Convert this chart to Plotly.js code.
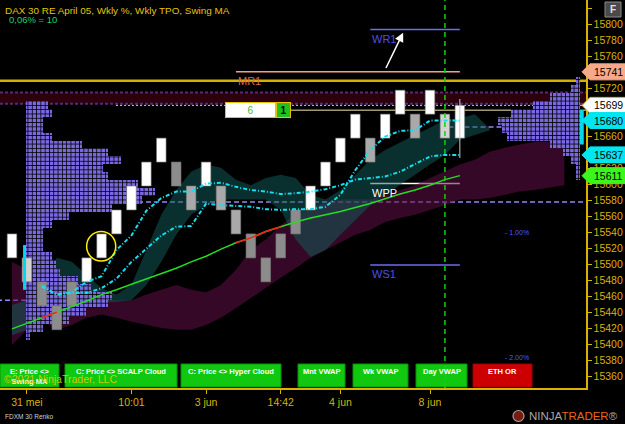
<!DOCTYPE html>
<html><head><meta charset="utf-8">
<script src="https://cdn.plot.ly/plotly-3.0.1.min.js"></script>
<style>html,body{margin:0;padding:0;background:#000;}#chart{width:625px;height:424px;}</style>
</head><body><div id="chart"></div>
<script>
// ---------------- DATA ----------------
const brickLow  = [15508,15478,15448,15418,15448,15478,15508,15538,15568,15598,15628,15598,15568,15598,15568,15538,15508,15478,15508,15538,15568,15598,15628,15658,15628,15658,15688,15658,15688,15658,15658];
const brickHigh = [15538,15508,15478,15448,15478,15508,15538,15568,15598,15628,15658,15628,15598,15628,15598,15568,15538,15508,15538,15568,15598,15628,15658,15688,15658,15688,15718,15688,15718,15688,15699];
const brickTone = ['w','l','g','g','g','w','w','w','w','w','w','g','m','w','m','m','g','g','g','g','w','w','w','w','m','w','w','m','w','l','w'];
const lastWick = [15633, 15707];

const maStart = 2;
const maA = [15473,15462,15465,15478,15485,15518,15536,15567,15583,15591,15591,15601,15602,15597,15593,15591,15588,15589,15591,15594,15599,15606,15608,15610,15616,15625,15635,15637,15637];
const maB = [15472,15462,15464,15464,15470,15482,15503,15519,15536,15547,15548,15576,15574,15573,15572,15569,15568,15569,15569,15572,15587,15618,15643,15660,15667,15668,15680,15680,15680];

const swingMA = [15419,15426,15433,15440,15448,15454,15462,15468,15475,15482,15489,15495,15503,15510,15519,15527,15533,15541,15547,15553,15558,15562,15566,15571,15576,15582,15588,15593,15599,15606,15611];
const swingRedIdx = [2,3,15,16,17,18];

const tealUp = [15449,15455,15468,15508,15503,15487,15470,15462,15474,15518,15562,15593,15616,15625,15621,15606,15599,15608,15612,15608,15587,15581,15593,15612,15631,15643,15653,15662,15671,15681,15683,15688,15670];
const tealLo = [15411,15418,15449,15465,15462,15455,15452,15453,15455,15474,15503,15537,15562,15574,15581,15581,15581,15581,15568,15531,15509,15518,15537,15556,15574,15587,15599,15612,15625,15637,15656,15662,15668];
const maroonUp = [15503,15493,15468,15455,15455,15455,15455,15455,15455,15462,15468,15474,15468,15465,15474,15493,15518,15531,15549,15562,15571,15577,15581,15581,15581,15587,15593,15599,15608,15616,15625,15631,15641,15646,15650,15653,15653,15653];
const maroonLo = [15399,15418,15430,15418,15424,15433,15437,15433,15428,15424,15420,15418,15418,15424,15433,15445,15458,15470,15483,15495,15508,15518,15528,15537,15543,15553,15558,15562,15568,15574,15581,15581,15583,15587,15591,15593,15596,15599];

const tpoLeftPrice = [15700,15690,15680,15670,15660,15650,15640,15630,15620,15610,15600,15590,15580,15570,15560,15550,15540,15530,15520,15510,15500,15490,15480,15470,15460,15450,15440,15430,15420,15410];
const tpoLeftCount = [5,6,4,4,6,13,19,22,18,19,26,30,27,20,10,6,4,4,4,6,7,8,12,15,20,19,14,10,4,1];
const tpoRightPrice = [15730,15720,15710,15700,15690,15680,15670,15660,15650,15640,15630,15620,15610];
const tpoRightCount = [1,2,7,11,16,19,18,17,7,4,2,1,1];
const vaLeft = [15468,15524];
const vaRight = [15650,15693];

const pivotName  = ['WR1','MR1','WPP','WS1'];
const pivotPrice = [15794,15741,15601,15499];
const pivotFrom  = [24,15,24,24];
const pivotTo = 30;
const monthLevel = 15730;
const bandLevels = [15701,15715];
const lastPrice = 15699;
const orderLevel = 15693;
const vaLine1 = 15578;
const vaLine2 = 15455;
const vaLine3 = 15672;
const pctLabel = ['- 1.00%','- 2.00%'];
const pctPrice = [15540,15383];
const priceTag = [15741,15699,15680,15637,15611];
const sessionBar = 29;
const circledBar = 6;
const arrowFrom = [25, 15744];
const arrowTo = [26.2, 15790];

const xTickIdx = [1,8,13,18,22,28];
const xTickText = ['31 mei','10:01','3 jun','14:42','4 jun','8 jun'];
const buttonText = ['E: Price &lt;&gt;<br>Swing MA','C: Price &lt;&gt; SCALP Cloud','C: Price &lt;&gt; Hyper Cloud','Mnt VWAP','Wk VWAP','Day VWAP','ETH OR'];

// ---------------- STYLE ----------------
const GOLD = '#d9b300';
const FONT = 'Arial, "Liberation Sans", sans-serif';
const W = 586, H = 388;
const toneColor = {w:'#ffffff', l:'#d2d2d2', m:'#a9a9a9', g:'#8c8c8c'};
const cellW = 0.288;
const tpoLeftStart = 0.94, tpoRightEnd = 38.04;
const tagColor = ['#f7a98a','#ffffff','#00e5f0','#00e5f0','#3cf51c'];
const buttonSpan = [[0,59],[65,177],[181,281],[298,345],[353,408],[416,467],[473,532]];
const buttonColor = ['#10c810','#10c810','#10c810','#10c810','#10c810','#10c810','#cc0000'];
const XR = [-0.804, 38.45], YR = [15345, 15831];

const idx = brickLow.map((_, i) => i);
const px = v => v / W, py = v => (H - v) / H;
const cIdx = n => Array.from({length:n}, (_, i) => i);

const traces = [];
traces.push({x:cIdx(maroonLo.length), y:maroonLo, mode:'lines', line:{width:0, color:'rgba(0,0,0,0)'}, hoverinfo:'skip'});
traces.push({x:cIdx(maroonUp.length), y:maroonUp, mode:'lines', line:{width:0, color:'rgba(0,0,0,0)'}, fill:'tonexty', fillcolor:'rgba(95,15,70,0.55)', hoverinfo:'skip'});
traces.push({x:cIdx(tealLo.length), y:tealLo, mode:'lines', line:{width:0, color:'rgba(0,0,0,0)'}, hoverinfo:'skip'});
traces.push({x:cIdx(tealUp.length), y:tealUp, mode:'lines', line:{width:0, color:'rgba(0,0,0,0)'}, fill:'tonexty', fillcolor:'rgba(18,95,92,0.5)', hoverinfo:'skip'});
const O = {xaxis:'x2', yaxis:'y2', hoverinfo:'skip'};
const tpoMarker = {color:'#7a68e0', line:{width:0}, pattern:{shape:'+', size:4.3, solidity:0.33, fgcolor:'#000', bgcolor:'#7a68e0', fillmode:'replace'}};
traces.push({...O, type:'bar', orientation:'h', y:tpoLeftPrice, x:tpoLeftCount.map(c => c*cellW), base:tpoLeftStart, width:10, marker:tpoMarker});
traces.push({...O, type:'bar', orientation:'h', y:tpoRightPrice, x:tpoRightCount.map(c => -c*cellW), base:tpoRightEnd, width:10, marker:tpoMarker});
traces.push({...O, type:'bar', x:idx, base:brickLow, y:brickHigh.map((h, i) => h - brickLow[i]), width:0.64,
  marker:{color:brickTone.map(t => toneColor[t]), line:{width:0.6, color:'#777'}}});
traces.push({...O, type:'scatter', mode:'lines', x:[idx[idx.length-1], idx[idx.length-1]], y:lastWick, line:{color:'#c8c8c8', width:1}});
const maX = maA.map((_, i) => i + maStart);
traces.push({...O, x:maX, y:maA, mode:'lines', line:{color:'#12e0f0', width:2, dash:'4px,2px,1px,2px'}});
traces.push({...O, x:maX, y:maB, mode:'lines', line:{color:'#12e0f0', width:2, dash:'4px,2px,1px,2px'}});
traces.push({...O, x:idx, y:swingMA, mode:'lines', line:{color:'#22dd22', width:1.5}});
traces.push({...O, x:idx, y:swingMA.map((v, i) => swingRedIdx.includes(i) ? v : null), mode:'lines', connectgaps:false, line:{color:'#ff1a1a', width:1.5}});

const shapes = [];
const ann = [];
shapes.push({type:'rect', xref:'paper', x0:0, x1:1, yref:'y', y0:bandLevels[0], y1:bandLevels[1], fillcolor:'#2c000c', line:{width:0}, layer:'below'});
bandLevels.forEach(v => shapes.push({type:'line', xref:'paper', x0:0, x1:1, yref:'y', y0:v, y1:v, line:{color:'#5a2878', width:2, dash:'3px,2px'}, layer:'below'}));
shapes.push({type:'line', xref:'paper', x0:0, x1:1, yref:'y', y0:monthLevel, y1:monthLevel, line:{color:'#d4b000', width:2.5}, layer:'below'});
shapes.push({type:'line', xref:'x', x0:6.97, x1:38.5, yref:'y', y0:lastPrice, y1:lastPrice, line:{color:'#cfcfcf', width:1, dash:'2px,2px'}, layer:'below'});
shapes.push({type:'line', xref:'x', x0:18.6, x1:38.5, yref:'y', y0:orderLevel, y1:orderLevel, line:{color:'#f3e6a8', width:1}, layer:'below'});
shapes.push({type:'line', xref:'x', x0:tpoLeftStart, x1:38.5, yref:'y', y0:vaLine1, y1:vaLine1, line:{color:'#9a86f0', width:1.5, dash:'5px,3px'}, layer:'below'});
shapes.push({type:'line', xref:'x', x0:-1, x1:tpoLeftStart, yref:'y', y0:vaLine2, y1:vaLine2, line:{color:'#9a86f0', width:1.5, dash:'5px,3px'}, layer:'below'});
shapes.push({type:'line', xref:'x', x0:28.7, x1:tpoRightEnd, yref:'y', y0:vaLine3, y1:vaLine3, line:{color:'#9a86f0', width:1.5, dash:'5px,3px'}, layer:'below'});
const pivotColor = {WR1:'#6c6cf0', MR1:'#f6a080', WPP:'#ffffff', WS1:'#6c6cf0'};
const pivotText = {WR1:'#5050e8', MR1:'#d86c4c', WPP:'#ffffff', WS1:'#5050e8'};
pivotName.forEach((n, i) => {
  shapes.push({type:'line', xref:'x', x0:pivotFrom[i], x1:pivotTo, yref:'y', y0:pivotPrice[i], y1:pivotPrice[i], line:{color:pivotColor[n], width:1.5}, layer:'below'});
  ann.push({xref:'x', yref:'y', x:pivotFrom[i], y:pivotPrice[i], text:n, showarrow:false, xanchor:'left', yanchor:'top', yshift:-1, font:{family:FONT, size:11, color:pivotText[n]}});
});
shapes.push({type:'rect', xref:'x', x0:0.74, x1:0.94, yref:'y', y0:vaLeft[0], y1:vaLeft[1], fillcolor:'#00d8f0', line:{width:0}, layer:'above'});
shapes.push({type:'rect', xref:'x', x0:38.04, x1:38.3, yref:'y', y0:vaRight[0], y1:vaRight[1], fillcolor:'#00d8f0', line:{width:0}, layer:'above'});
shapes.push({type:'line', xref:'x', x0:sessionBar, x1:sessionBar, yref:'paper', y0:0, y1:1, line:{color:'#11d011', width:1.5, dash:'5px,4px'}, layer:'above'});
const cMid = (brickLow[circledBar] + brickHigh[circledBar]) / 2;
shapes.push({type:'circle', xref:'x', yref:'y', x0:circledBar-1, x1:circledBar+0.95, y0:cMid-19, y1:cMid+18, line:{color:'#ffee00', width:1.5}, layer:'above'});
ann.push({xref:'x', yref:'y', axref:'x', ayref:'y', x:arrowTo[0], y:arrowTo[1], ax:arrowFrom[0], ay:arrowFrom[1], text:'', showarrow:true, arrowhead:2, arrowsize:1.2, arrowwidth:1.5, arrowcolor:'#ffffff'});
pctLabel.forEach((t, i) => ann.push({xref:'x', yref:'y', x:32.9, y:pctPrice[i], text:t, showarrow:false, xanchor:'left', yanchor:'middle', font:{family:FONT, size:7, color:'#4a5cff'}}));
priceTag.forEach((p, i) => {
  shapes.push({type:'path', xref:'paper', yref:'y', xsizemode:'pixel', ysizemode:'pixel', xanchor:1, yanchor:p,
    path:'M-4,0L4,8L40,8L40,-8L4,-8Z', fillcolor:tagColor[i], line:{color: i===1 ? '#e0b040' : tagColor[i], width:1}, layer:'above'});
  ann.push({xref:'paper', yref:'y', x:1, xshift:22, y:p, text:String(p), showarrow:false, xanchor:'center', yanchor:'middle', font:{family:FONT, size:10.5, color:'#000'}});
});
ann.push({xref:'paper', yref:'y', x:px(250.5), xanchor:'center', yanchor:'middle', y:orderLevel, text:'6', showarrow:false, bgcolor:'#ffffff', bordercolor:'#e8c200', borderwidth:1, width:49, height:14, borderpad:0, font:{family:FONT, size:10, color:'#3bb83b'}});
ann.push({xref:'paper', yref:'y', x:px(283), xanchor:'center', yanchor:'middle', y:orderLevel, text:'<b>1</b>', showarrow:false, bgcolor:'#20c020', bordercolor:'#e8c200', borderwidth:1, width:13, height:14, borderpad:0, font:{family:FONT, size:10, color:'#000'}});
buttonSpan.forEach((s, i) => {
  shapes.push({type:'rect', xref:'paper', yref:'paper', x0:px(s[0]), x1:px(s[1]), y0:py(387), y1:py(364), fillcolor:buttonColor[i], line:{color: i===6 ? '#990000' : '#089008', width:1}, layer:'above'});
  ann.push({xref:'paper', yref:'paper', x:px((s[0]+s[1])/2), xanchor:'center', y:py(364.5), yanchor:'top', text:'<b>'+buttonText[i]+'</b>', showarrow:false, font:{family:FONT, size:7.5, color:'#ffffff'}});
});
shapes.push({type:'line', xref:'x', x0:sessionBar, x1:sessionBar, yref:'paper', y0:0, y1:py(362), line:{color:'#11d011', width:1.5, dash:'5px,4px'}, layer:'above'});
ann.push({xref:'paper', yref:'paper', x:px(2), y:py(379), xanchor:'left', yanchor:'middle', text:'©2021 NinjaTrader, LLC', showarrow:false, font:{family:FONT, size:10.5, color:'rgba(222,200,0,0.95)'}});
ann.push({xref:'paper', yref:'paper', x:px(3), y:py(10), xanchor:'left', yanchor:'middle', text:'DAX 30 RE April 05, Wkly %, Wkly TPO, Swing MA', showarrow:false, font:{family:FONT, size:9.9, color:'#e6c400'}});
ann.push({xref:'paper', yref:'paper', x:px(7), y:py(19.5), xanchor:'left', yanchor:'middle', text:'0,06% = 10', showarrow:false, font:{family:FONT, size:9.5, color:'#14d46a'}});
ann.push({xref:'paper', yref:'paper', x:px(3), y:py(416), xanchor:'left', yanchor:'middle', text:'FDXM 30 Renko', showarrow:false, font:{family:FONT, size:6.5, color:'#d0d0d0'}});
ann.push({xref:'paper', yref:'paper', x:px(527), y:py(416), xanchor:'left', yanchor:'middle', text:'<span style="color:#a8a8a8">NINJA</span><span style="color:#e8661e">TRADER</span><span style="color:#a8a8a8">®</span>', showarrow:false, font:{family:FONT, size:11.5}});
shapes.push({type:'circle', xref:'paper', yref:'paper', x0:px(513), x1:px(524), y0:py(421.5), y1:py(410.5), fillcolor:'#7a1a10', line:{color:'#a0a0a0', width:1.2}, layer:'above'});
shapes.push({type:'rect', xref:'paper', yref:'paper', x0:px(605), x1:px(621), y0:py(17), y1:py(2), fillcolor:'#4a4a4a', line:{color:'#8a8a8a', width:1}, layer:'above'});
ann.push({xref:'paper', yref:'paper', x:px(613), xanchor:'center', yanchor:'middle', y:py(9.5), text:'<b>F</b>', showarrow:false, font:{family:FONT, size:10, color:'#e0e0e0'}});

const tagCovered = [15740,15700,15680,15640];
const yTickVals = [], yTickText = [];
for (let v = 15360; v <= 15820; v += 20) { yTickVals.push(v); yTickText.push(v === 15820 || tagCovered.includes(v) ? '' : String(v)); }

const layout = {
  width:625, height:424, margin:{l:0, r:39, t:0, b:36},
  paper_bgcolor:'#000', plot_bgcolor:'#000', showlegend:false, barmode:'overlay', bargap:0,
  xaxis:{range:XR, showgrid:false, zeroline:false, tickvals:xTickIdx, ticktext:xTickText, ticks:'outside', ticklen:4, tickcolor:GOLD,
    tickfont:{family:FONT, size:10.5, color:GOLD}, showline:true, linecolor:GOLD, linewidth:1.5, fixedrange:true},
  yaxis:{side:'right', range:YR, showgrid:false, zeroline:false, tickvals:yTickVals, ticktext:yTickText, ticks:'outside', ticklen:4, tickcolor:GOLD,
    tickfont:{family:FONT, size:10.5, color:GOLD}, showline:true, linecolor:GOLD, linewidth:1.5, fixedrange:true},
  xaxis2:{overlaying:'x', range:XR, visible:false, fixedrange:true},
  yaxis2:{overlaying:'y', side:'right', range:YR, visible:false, fixedrange:true},
  shapes:shapes, annotations:ann
};
Plotly.newPlot('chart', traces, layout, {displayModeBar:false, staticPlot:true});
</script></body></html>
